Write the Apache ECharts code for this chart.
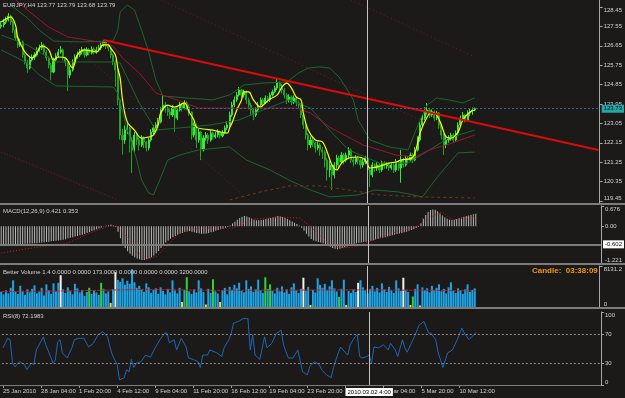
<!DOCTYPE html>
<html><head><meta charset="utf-8">
<script src="https://cdn.jsdelivr.net/npm/echarts@6/dist/echarts.min.js"></script>
<style>html,body{margin:0;padding:0;background:#1b1a19;}#c{width:625px;height:398px;}</style>
</head><body><div id="c"></div>
<script>
// ---------- DATA ----------
const firstOpen = 127.55;
const closes = [127.62,127.75,127.85,128.03,127.75, 127.38,127.01,126.69,126.83, 126.22,125.90,125.62,125.99,126.13,126.22, 126.46,126.55,126.69,126.36,126.08, 125.76,125.43,125.99,126.18, 126.36,126.46,126.08,125.90, 125.29,125.53,125.90, 126.13,126.22,126.36,126.46, 126.22,126.46,126.32,126.50,126.36,126.46,126.55, 126.69,126.83,126.64,126.55, 126.22,125.90,125.53, 124.14,122.51,122.28, 122.74,122.84,122.28,121.82,122.51, 122.28,122.05,122.37,122.19,121.91,122.28, 122.65,122.84,122.98,123.11, 123.67,123.90,123.76,123.58, 123.44,123.76,123.30,123.67,123.90,123.76, 124.00,123.81,123.58, 122.51,122.98,122.28,122.65,121.82, 122.37,122.51,122.28,122.60,122.42,122.51, 122.65,122.47,122.60,122.84,122.98, 123.44,123.90,124.14,124.37, 124.60,124.37,124.51,124.14, 123.90,123.67,123.44,123.67, 123.90,124.14,124.00,124.23, 124.14,124.37,124.51,124.69, 124.92,124.78,124.60,124.37, 124.14,124.27,124.04,124.23,124.00, 123.90,123.44,122.98, 122.51,122.05,122.28,122.14, 121.91,122.05,121.82,121.72, 121.35,120.89,121.12,120.66, 121.12,121.44,121.26,121.58,121.35, 121.58,121.82,121.35,121.26,121.44, 121.35,121.12,121.26,121.44, 120.89,120.66,121.12,120.98, 121.12,120.89,121.21,121.07,121.12,120.98, 121.12,120.89,121.26,120.98,121.35, 121.12,121.44,121.35,121.58, 121.35,121.82,122.28, 122.98,123.30,123.58,123.67, 123.44,123.58,123.30,123.53, 122.98,122.51,122.05,122.28, 122.37,122.51,122.28,122.60, 122.98,123.30,123.44,123.21, 123.53,123.58,123.67,123.73];
const highs = [127.80,127.90,128.00,128.17,128.10, 127.82,127.45,127.08,126.98, 126.90,126.30,126.00,126.10,126.25,126.35, 126.58,126.70,126.83,126.75,126.45, 126.15,125.85,126.10,126.30, 126.50,126.64,126.52,126.15, 125.95,125.70,126.02, 126.25,126.38,126.50,126.60, 126.55,126.58,126.55,126.62,126.58,126.60,126.70, 126.85,126.92,126.88,126.75, 126.62,126.30,125.98, 125.60,124.20,122.80, 122.95,123.05,122.90,122.40,122.65, 122.60,122.40,122.50,122.45,122.25,122.40, 122.78,122.98,123.10,123.30, 123.80,124.37,124.05,123.85, 123.70,123.90,123.82,123.78,124.05,124.00, 124.12,124.08,123.90, 123.62,123.10,123.05,122.80,122.70, 122.50,122.65,122.60,122.72,122.68,122.65, 122.78,122.72,122.75,122.95,123.15, 123.60,124.05,124.30,124.50, 124.74,124.65,124.62,124.58, 124.25,124.00,123.75,123.80, 124.05,124.25,124.22,124.35, 124.32,124.48,124.62,124.80, 125.15,125.00,124.88,124.70, 124.45,124.40,124.35,124.35,124.30, 124.10,123.98,123.55, 123.05,122.60,122.45,122.40, 122.20,122.20,122.15,121.95, 121.80,121.45,121.30,121.20, 121.25,121.60,121.55,121.72,121.68, 121.70,121.95,121.88,121.50,121.58, 121.55,121.45,121.40,121.55, 121.50,121.00,121.25,121.20, 121.25,121.20,121.32,121.30,121.25,121.20, 121.25,121.20,121.40,121.35,121.82, 121.45,121.55,121.55,121.70, 121.68,121.95,122.45, 123.10,123.45,123.80,124.00, 123.78,123.70,123.65,123.62, 123.58,123.05,122.60,122.45, 122.50,122.62,122.60,122.72, 123.10,123.42,123.58,123.50, 123.65,123.75,123.79,123.79];
const lows = [127.45,127.50,127.66,127.78,127.62, 127.25,126.90,126.55,126.60, 126.10,125.78,125.40,125.55,125.92,126.00, 126.15,126.38,126.45,126.25,125.95, 125.60,125.05,125.38,125.90, 126.10,126.28,125.98,125.70, 124.55,125.15,125.45, 125.85,126.05,126.12,126.25, 126.10,126.15,126.20,126.25,126.25,126.28,126.38, 126.45,126.60,126.50,126.40, 126.08,125.75,124.75, 123.90,122.30,121.60, 122.10,122.55,121.70,120.75,121.70, 122.05,121.80,121.95,121.90,121.75,121.80, 122.20,122.55,122.70,122.90, 123.05,123.60,123.55,123.40, 123.25,123.35,122.65,123.20,123.60,123.60, 123.70,123.65,123.40, 122.30,122.40,121.90,122.15,121.35, 121.75,122.25,122.10,122.20,122.30,122.35, 122.40,122.35,122.40,122.55,122.75, 122.90,123.35,123.80,124.05, 124.30,124.20,124.25,123.95, 123.70,123.40,123.20,123.35, 123.60,123.85,123.85,123.95, 124.00,124.05,124.30,124.45, 124.60,124.60,124.45,124.20, 123.95,124.02,123.90,123.95,123.85, 123.75,123.30,122.80, 122.30,121.80,121.90,121.95, 121.70,121.80,121.55,121.40, 121.00,120.40,120.55,119.96, 120.50,120.95,121.00,121.15,121.15, 121.25,121.45,121.20,121.05,121.15, 121.15,120.95,121.00,121.15, 120.05,120.10,120.55,120.80, 120.85,120.75,120.80,120.95,120.95,120.85, 120.90,120.75,120.80,120.85,120.30, 121.00,121.05,121.20,121.25, 121.20,121.30,121.75, 122.20,122.90,123.20,123.45, 123.30,123.35,123.15,123.20, 122.80,122.30,121.58,121.90, 122.15,122.25,122.15,122.20, 122.50,122.90,123.20,123.10, 123.15,123.40,123.45,123.62];

// indicator lines on price chart: [bar index, price]
const maYellow = [[0,127.75],[2,127.89],[4,127.99],[6,127.62],[7,127.01],[9,126.55],[10,126.36],[12,126.13],[13,126.08],[15,126.32],[17,126.64],[20,126.46],[22,125.99],[24,126.13],[27,126.08],[30,125.62],[32,126.22],[35,126.46],[38,126.41],[40,126.36],[43,126.69],[45,126.69],[46,126.55],[48,126.22],[49,125.62],[50,125.15],[51,124.14],[53,123.11],[56,122.74],[59,122.37],[62,122.42],[64,122.51],[66,122.98],[67,123.53],[70,123.90],[71,123.86],[73,123.81],[75,123.90],[77,124.00],[79,123.58],[81,123.21],[82,122.88],[85,122.79],[89,122.74],[92,122.65],[95,122.60],[96,122.84],[97,123.07],[99,123.67],[101,124.14],[102,124.51],[104,124.51],[106,124.14],[109,123.81],[111,124.00],[113,124.18],[116,124.37],[118,124.74],[120,124.92],[122,124.69],[124,124.27],[126,124.14],[127,123.53],[129,122.74],[132,122.28],[135,122.19],[137,121.72],[139,121.12],[141,120.89],[143,121.21],[146,121.44],[150,121.49],[153,121.35],[155,120.98],[158,121.03],[163,121.21],[166,121.26],[168,121.35],[173,121.49],[176,122.60],[179,123.35],[181,123.58],[183,123.44],[185,122.98],[187,122.42],[189,122.37],[192,122.65],[194,123.21],[197,123.58],[199,123.67]];
const bbUpper = [[4,128.54],[11,127.94],[16,127.38],[22,126.87],[33,126.83],[47,126.87],[49,127.38],[50,128.22],[53,128.54],[56,128.31],[59,127.38],[62,126.36],[65,125.06],[68,124.32],[78,124.23],[89,124.14],[96,124.37],[102,124.83],[110,124.92],[120,124.97],[125,125.39],[129,125.62],[134,125.67],[138,125.62],[142,125.20],[145,124.69],[148,124.14],[150,123.21],[155,122.28],[163,121.96],[171,121.82],[176,123.21],[179,123.90],[183,124.23],[188,124.14],[194,124.00],[199,124.23]];
const bbMid = [[0,127.15],[11,126.69],[23,125.90],[47,125.90],[50,125.85],[58,124.00],[65,122.74],[75,122.84],[88,122.98],[100,123.21],[110,123.67],[121,124.14],[130,123.76],[138,122.74],[146,121.82],[159,121.21],[171,121.21],[180,121.82],[188,122.37],[199,122.74]];
const bbLower = [[0,126.46],[11,125.85],[16,125.30],[23,124.79],[47,124.74],[49,124.46],[53,122.74],[57,121.35],[59,120.42],[62,119.82],[64,119.73],[67,120.52],[70,121.35],[75,121.58],[83,121.82],[96,121.96],[103,121.35],[113,120.89],[121,120.42],[130,119.96],[138,119.64],[150,119.73],[157,119.96],[167,119.87],[177,119.64],[184,120.66],[192,121.68],[199,121.72]];
const maRed = [[6,128.78],[11,128.31],[20,127.52],[28,127.06],[41,126.83],[47,126.64],[51,126.08],[58,125.39],[65,124.46],[74,124.14],[83,123.76],[96,123.76],[124,123.76],[130,123.53],[138,122.88],[152,122.05],[166,121.58],[174,121.49],[180,121.82],[187,122.05],[199,122.51]];
const trendLine = [[43,126.92],[251,121.82]];
const channelA = [[67,128.78],[199,122.05]];
const channelB = [[147,128.78],[199,126.13]];
const channelC = [[0,121.72],[49,119.50]];
const channelD = [[28,126.90],[104,119.50]];
const lowerArc = [[96,119.50],[109,119.87],[121,120.15],[134,120.15],[146,119.96],[159,119.73],[176,119.64],[199,119.59]];
const bidPrice = 123.73;

// MACD(12,26,9)
const macdHist = [-0.62,-0.62,-0.61,-0.60,-0.60,-0.59,-0.60,-0.61,-0.60,-0.59,-0.58,-0.58,-0.57,-0.57,-0.56,-0.56,
 -0.55,-0.54,-0.53,-0.52,-0.51,-0.50,-0.49,-0.48,-0.47,-0.46,-0.45,-0.43,
 -0.40,-0.38,-0.36,-0.34,-0.32,-0.30,-0.28,-0.26,
 -0.22,-0.19,-0.16,-0.13,-0.10,-0.07,
 -0.04,-0.01,0.02,0.04,0.05,0.03,-0.02,
 -0.18,-0.40,-0.58,-0.72,-0.83,-0.91,-0.98,-1.03,-1.07,-1.10,-1.12,-1.12,-1.10,-1.07,-1.03,-0.97,-0.90,
 -0.82,-0.72,-0.62,-0.54,-0.47,-0.41,-0.36,-0.32,-0.28,-0.25,-0.22,-0.19,-0.17,
 -0.16,-0.18,-0.20,-0.22,-0.23,-0.25,-0.25,-0.24,-0.22,-0.20,-0.18,-0.15,
 -0.12,-0.10,-0.08,-0.05,-0.02,0.03,0.09,
 0.15,0.22,0.28,0.32,0.34,0.33,0.30,0.26,0.22,0.20,0.20,0.21,0.22,
 0.24,0.26,0.28,0.30,0.32,0.34,0.33,0.31,0.28,0.24,0.20,0.16,0.12,0.08,0.03,
 -0.05,-0.15,-0.25,-0.34,-0.42,-0.47,-0.50,-0.52,-0.54,-0.56,-0.59,-0.63,
 -0.68,-0.72,-0.75,-0.76,-0.75,-0.72,-0.70,-0.67,-0.64,
 -0.62,-0.59,-0.56,-0.55,-0.54,-0.52,-0.51,-0.50,-0.48,
 -0.46,-0.44,-0.42,-0.40,-0.38,-0.36,-0.34,-0.32,-0.30,-0.28,-0.26,-0.24,-0.22,-0.20,-0.18,-0.15,-0.12,-0.10,-0.06,-0.02,
 0.10,0.25,0.38,0.48,0.54,0.56,0.55,0.50,0.43,
 0.36,0.30,0.25,0.22,0.21,0.22,0.24,0.27,0.29,0.32,0.34,0.36,0.38,0.40,0.42];
const macdSignal = [[0,-0.89],[13,-0.72],[28,-0.56],[38,-0.19],[46,0.04],[49,-0.02],[53,-0.39],[57,-0.86],[61,-1.06],[65,-1.02],[70,-0.62],[75,-0.19],[83,-0.06],[97,-0.06],[106,0.24],[116,0.31],[125,0.28],[129,0.04],[137,-0.56],[142,-0.72],[148,-0.69],[155,-0.49],[164,-0.22],[174,-0.02],[180,0.31],[185,0.48],[189,0.21],[195,0.28],[199,0.353]];
const macdCursor = -0.602;

// Better Volume 1.4
const volumes = [3000,2500,3300,2700,3800,5300,3100,2600,4200,3200, 2400,3500,2900,3600,4300,2700,3000,3800,2300,4500, 3300,2600,4700,3100,4800,6300,3500,2800,3900,3200, 2500,4600,3700,2900,3400,2200,3000,3800,2600,3300, 2900,2400,4800,3600,2700,3100,800,3500,6900,5400, 5000,5700,4400,5200,4600,7500,4900,3800,4200,3500, 3000,4700,3900,2800,3400,3700,2600,3900,3200,2500, 3600,2900,5300,3300,2700,3800,1000,3400,5900,3100, 2600,3500,2900,5300,3700,3000,500,3600,2800,5500, 3100,2700,1000,3300,3800,2500,4000,3400,4400,3700, 4800,3200,2900,5300,3600,4100,3000,3500,5400,3300, 2800,5900,3600,4500,3200,2700,3800,3100,4100,2900, 3500,2600,3900,4700,3300,2800,3600,5800,3200,4000, 400,3400,2900,5700,4400,3800,4600,3300,4100,5300, 3700,3100,2000,3600,5400,400,3200,2800,3500,3000, 4800,5300,3900,3300,2700,3600,4200,3100,3800,2900, 4700,3500,3000,4000,3300,2800,5300,3700,3200,5800, 3400,3000,400,2100,3600,4500,300,3900,3300,3700, 2900,4200,3400,3800,4500,3100,3600,2700,3900,4900, 3200,2800,3700,3300,2600,3500,4500,3000,3400,3700];
const climaxWhite = [25,48,127,150,169];
const churnGreen = [37,42,78,89,111,113,142,173];
const lowYellow = [46,76,86,92,130,145,172,176];
const volAverage = [[0,3050],[30,3200],[60,3500],[90,3300],[120,3350],[150,3400],[180,3300],[199,3200]];
const volMax = 8131.2;

// RSI(8)
const rsi = [[0,51],[2,64],[3,62],[4,30],[5,25],[7,32],[9,28],[10,21],[12,30],[13,28],[14,48],[17,66],[18,55],[20,39],[21,30],[22,34],[23,59],[24,62],[25,44],[27,37],[29,51],[30,62],[32,64],[34,64],[36,52],[38,57],[40,69],[42,73],[44,66],[45,52],[46,41],[48,28],[49,7],[51,10],[52,21],[53,18],[54,35],[55,24],[56,30],[58,32],[60,41],[62,38],[64,51],[66,62],[68,71],[69,71],[70,58],[72,62],[73,48],[75,64],[77,52],[78,37],[80,35],[82,32],[83,24],[84,41],[86,41],[87,48],[90,44],[92,39],[93,51],[95,62],[96,71],[97,85],[99,87],[101,91],[103,91],[104,48],[105,69],[106,41],[108,35],[110,66],[111,51],[113,57],[115,71],[117,75],[118,55],[120,37],[122,37],[124,48],[126,18],[128,14],[129,25],[131,32],[133,28],[134,21],[136,14],[138,10],[139,24],[141,44],[142,52],[143,48],[145,41],[146,55],[148,66],[149,69],[150,39],[151,37],[153,39],[154,41],[155,30],[156,52],[158,51],[160,55],[162,48],[163,57],[165,48],[166,39],[168,62],[169,51],[170,45],[172,59],[173,66],[175,82],[177,87],[179,71],[180,71],[182,62],[183,45],[185,24],[187,44],[189,48],[191,62],[193,78],[194,71],[196,62],[198,69],[199,72]];
const rsiLevels = [30,70];

// axes / labels
const slotCount = 252;
const cursorBar = 154;
const cursorTime = '2010.03.02 4:00';
const timeLabels = ['25 Jan 2010','28 Jan 04:00','1 Feb 20:00','4 Feb 12:00','9 Feb 04:00','11 Feb 20:00','16 Feb 12:00','19 Feb 04:00','23 Feb 20:00','26 Feb 12:00','3 Mar 04:00','5 Mar 20:00','10 Mar 12:00'];
const timeLabelStep = 16;
const priceTicks = [119.45,120.35,121.25,122.15,123.05,123.95,124.85,125.75,126.65,127.55,128.45];
const macdTicks = [-1.221,0,0.676];
const volTicks = [0,volMax];
const rsiTicks = [0,30,70,100];

// ---------- CHART ----------
const FONT = 'Liberation Sans';
const FS = 6;
const TXT = '#d4d4d4';
const cats = Array.from({length: slotCount}, (_, i) => String(i));
const candles = closes.map((c, i) => [i === 0 ? firstOpen : closes[i - 1], c, lows[i], highs[i]]);
const volColor = (i) => climaxWhite.includes(i) ? '#f2f2f2' : churnGreen.includes(i) ? '#2ed62e' : lowYellow.includes(i) ? '#f0e020' : '#1ea3e4';
const showTime = (i) => i % timeLabelStep === 0 && i / timeLabelStep < timeLabels.length;

function xAxisFor(g, showLabels) {
  return {
    type: 'category', gridIndex: g, data: cats, boundaryGap: true,
    axisLine: {show: showLabels, lineStyle: {color: '#8a8a8a'}},
    axisTick: showLabels ? {show: true, alignWithLabel: true, length: 3, lineStyle: {color: '#9a9a9a'}, interval: showTime} : {show: false},
    axisLabel: showLabels ? {show: true, showMinLabel: true, align: 'left', margin: 3, color: TXT, fontSize: FS, fontFamily: FONT,
      interval: showTime, formatter: (v, i) => timeLabels[Math.round(i / timeLabelStep)] || ''} : {show: false},
    splitLine: {show: false}
  };
}
function yAxisFor(g, min, max, ticks, fmt) {
  return {
    type: 'value', gridIndex: g, position: 'right', min, max, scale: true,
    splitLine: {show: false},
    axisLine: {show: true, lineStyle: {color: '#a8a8a8'}},
    axisTick: {show: true, length: 3, customValues: ticks, lineStyle: {color: '#a8a8a8'}},
    axisLabel: {show: true, customValues: ticks, formatter: fmt, color: TXT, fontSize: FS, fontFamily: FONT, margin: 4,
      verticalAlignMinLabel: 'bottom', verticalAlignMaxLabel: 'top'}
  };
}
const lineS = (data, color, width, type, xi, extra) => Object.assign({
  type: 'line', data, xAxisIndex: xi || 0, yAxisIndex: xi || 0, showSymbol: false, symbol: 'none',
  lineStyle: {color, width, type: type || 'solid'}, silent: true, animation: false
}, extra || {});
const vCursor = (withLabel) => ({
  xAxis: String(cursorBar), lineStyle: {color: '#c4c4c4', width: 1, type: 'solid'},
  label: withLabel ? {show: true, position: 'start', formatter: cursorTime, backgroundColor: '#ffffff', color: '#000000',
    fontSize: FS, fontFamily: FONT, padding: [1, 2, 1, 2], distance: 3} : {show: false}
});
const ttl = (text, left, top, color, size, weight) => ({text, left, top, padding: 0,
  textStyle: {color: color || TXT, fontSize: size || FS, fontWeight: weight || 'normal', fontFamily: FONT}});

const option = {
  backgroundColor: '#1b1a19',
  animation: false,
  textStyle: {fontFamily: FONT},
  title: [
    ttl('EURJPY,H4 123.77 123.79 123.68 123.79', 3, 2),
    ttl('MACD(12,26,9) 0.421 0.353', 3, 208),
    ttl('Better Volume 1.4 0.0000 0.0000 173.0000 0.0000 0.0000 0.0000 3200.0000', 3, 269),
    ttl('Candle:  03:38:09', 532, 267, '#f0961e', 8, 'bold'),
    ttl('RSI(8) 72.1983', 3, 313)
  ],
  grid: [
    {left: 0, top: 0, width: 601, height: 203},
    {left: 0, top: 206, width: 601, height: 57},
    {left: 0, top: 266, width: 601, height: 41},
    {left: 0, top: 312, width: 601, height: 73}
  ],
  xAxis: [xAxisFor(0, false), xAxisFor(1, false), xAxisFor(2, false), xAxisFor(3, true)],
  yAxis: [
    yAxisFor(0, 119.357, 128.775, priceTicks, (v) => v.toFixed(2)),
    yAxisFor(1, -1.221, 0.676, macdTicks, (v) => Math.abs(v) < 1e-9 ? '0.00' : v.toFixed(3)),
    yAxisFor(2, 0, volMax, volTicks, (v) => v === 0 ? '0' : v.toFixed(1)),
    yAxisFor(3, 0, 100, rsiTicks, (v) => String(v))
  ],
  graphic: [
    {type: 'rect', shape: {x: 0, y: 203, width: 625, height: 2}, style: {fill: '#7c7c7c'}, z: 50},
    {type: 'rect', shape: {x: 0, y: 263, width: 625, height: 2}, style: {fill: '#7c7c7c'}, z: 50},
    {type: 'rect', shape: {x: 0, y: 307, width: 625, height: 2}, style: {fill: '#7c7c7c'}, z: 50},
    {type: 'rect', shape: {x: 0, y: 385, width: 601, height: 1}, style: {fill: '#7c7c7c'}, z: 50}
  ],
  series: [
    {type: 'candlestick', data: candles, xAxisIndex: 0, yAxisIndex: 0, barWidth: 1.6, silent: true,
     itemStyle: {color: '#3ae63a', color0: '#20a520', borderColor: '#3ae63a', borderColor0: '#20a520', borderWidth: 1},
     markLine: {symbol: 'none', silent: true, data: [
       {yAxis: bidPrice, lineStyle: {color: '#2b6a92', width: 1, type: [2, 2]},
        label: {show: true, position: 'end', formatter: bidPrice.toFixed(2), backgroundColor: '#22a6a6', color: '#0a0a0a', fontSize: FS, fontFamily: FONT, padding: [1, 2, 1, 2], distance: 2}},
       vCursor(false)
     ]}},
    lineS(bbUpper, '#1d6631', 1),
    lineS(bbMid, '#1d6631', 1),
    lineS(bbLower, '#1d6631', 1),
    lineS(maRed, '#9e1436', 1),
    lineS(channelA, '#6e2012', 1, [1, 3]),
    lineS(channelB, '#6e2012', 1, [1, 3]),
    lineS(channelC, '#8a1230', 1, [1, 2]),
    lineS(channelD, '#6e2012', 1, [1, 3]),
    lineS(lowerArc, '#6e3a18', 1, [3, 3]),
    lineS(maYellow, '#ffff00', 1.2, 'solid', 0, {smooth: 0.35}),
    lineS(trendLine, '#dd0a0a', 2),
    // MACD
    {type: 'bar', data: macdHist, xAxisIndex: 1, yAxisIndex: 1, barWidth: 1, silent: true, itemStyle: {color: '#b8b8b8'},
     markLine: {symbol: 'none', silent: true, data: [
       {yAxis: macdCursor, lineStyle: {color: '#7c7c7c', width: 2, type: 'solid'},
        label: {show: true, position: 'end', formatter: macdCursor.toFixed(3), backgroundColor: '#ffffff', color: '#000000', fontSize: FS, fontFamily: FONT, padding: [1, 2, 1, 2], distance: 2}},
       vCursor(false)
     ]}},
    lineS(macdSignal, '#d81818', 1, [1, 2], 1),
    // Volume
    {type: 'bar', data: volumes, xAxisIndex: 2, yAxisIndex: 2, barWidth: 2, silent: true,
     itemStyle: {color: (p) => volColor(p.dataIndex)},
     markLine: {symbol: 'none', silent: true, data: [vCursor(false)]}},
    lineS(volAverage, '#c41c1c', 1, [3, 1], 2),
    // RSI
    lineS(rsi, '#1f66b5', 1, 'solid', 3, {
      markLine: {symbol: 'none', silent: true, data: [
        ...rsiLevels.map(v => ({yAxis: v, lineStyle: {color: '#8c8c8c', width: 1, type: [2, 2]}, label: {show: false}})),
        vCursor(true)
      ]}})
  ]
};
const chart = echarts.init(document.getElementById('c'), null, {renderer: 'canvas'});
chart.setOption(option);
</script></body></html>
